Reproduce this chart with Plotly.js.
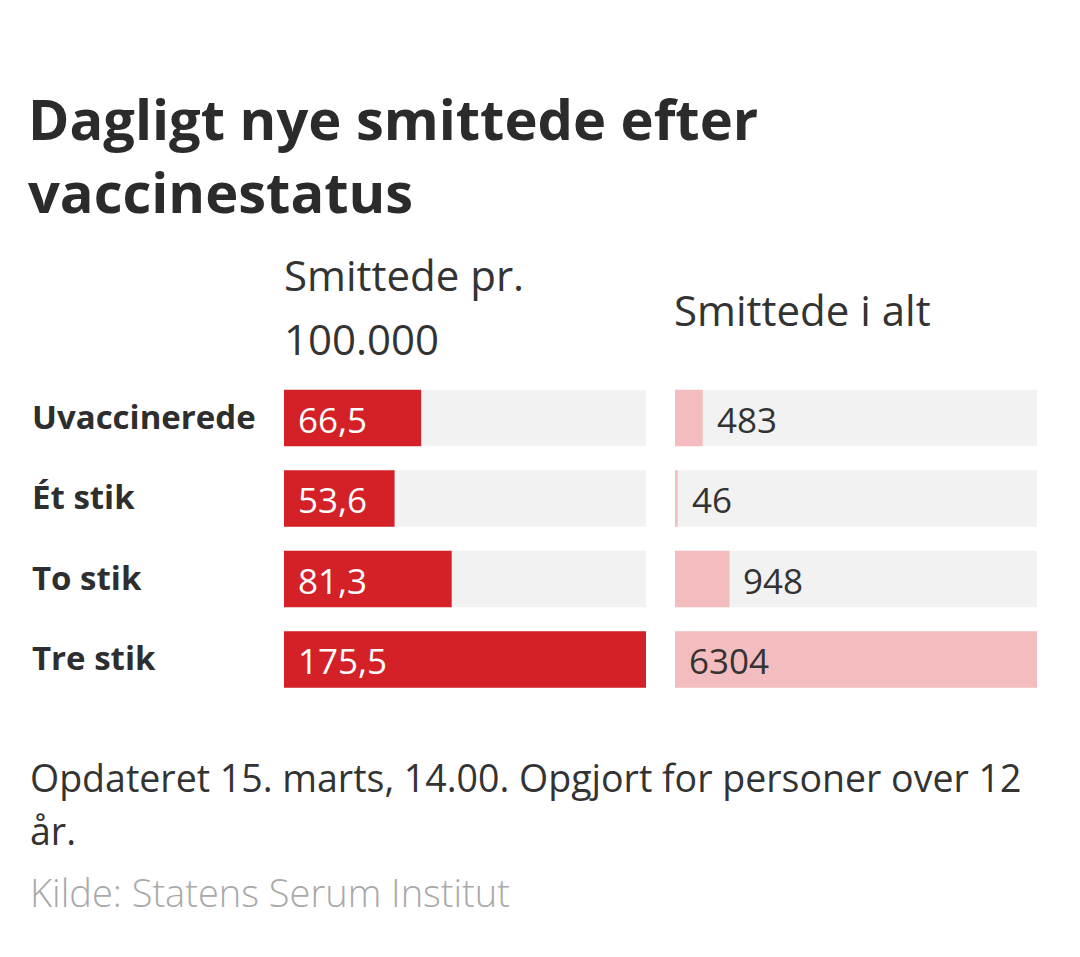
<!DOCTYPE html>
<html>
<head>
<meta charset="utf-8">
<script src="https://cdn.plot.ly/plotly-3.0.1.min.js"></script>
<style>html,body{margin:0;padding:0;background:#fff;}#chart{width:1080px;height:957px;}</style>
</head>
<body>
<div id="chart"></div>
<script>
// ---- data ----
const categories = ['Uvaccinerede', 'Ét stik', 'To stik', 'Tre stik'];
const perHundredThousand = [66.5, 53.6, 81.3, 175.5];
const totalInfected = [483, 46, 948, 6304];
const headerLeftLines = ['Smittede pr.', '100.000'];
const headerRight = 'Smittede i alt';
const titleLines = ['Dagligt nye smittede efter', 'vaccinestatus'];
const noteLines = ['Opdateret 15. marts, 14.00. Opgjort for personer over 12', 'år.'];
const sourceText = 'Kilde: Statens Serum Institut';

// ---- styling ----
const W = 1080, H = 957;
const px = v => v / W;
const py = v => 1 - v / H;
const FONT = 'Open Sans, Noto Sans, sans-serif';
const RED = '#d42027', PINK = '#f3bcbf', TRACK = '#f2f2f2', INK = '#2e2e2e';

const maxLeft = Math.max(...perHundredThousand);
const maxRight = Math.max(...totalInfected);
const fmtDec = v => v.toFixed(1).replace('.', ',');

const traces = [
  { type: 'bar', orientation: 'h', y: categories, x: categories.map(() => maxLeft),
    xaxis: 'x', yaxis: 'y', marker: { color: TRACK }, hoverinfo: 'skip', showlegend: false },
  { type: 'bar', orientation: 'h', y: categories, x: perHundredThousand,
    xaxis: 'x', yaxis: 'y', marker: { color: RED }, showlegend: false },
  { type: 'bar', orientation: 'h', y: categories, x: categories.map(() => maxRight),
    xaxis: 'x2', yaxis: 'y', marker: { color: TRACK }, hoverinfo: 'skip', showlegend: false },
  { type: 'bar', orientation: 'h', y: categories, x: totalInfected,
    xaxis: 'x2', yaxis: 'y', marker: { color: PINK }, showlegend: false }
];

const annotations = [];
// row labels
categories.forEach(c => annotations.push({
  text: c, xref: 'paper', x: px(30), xanchor: 'left', yref: 'y', y: c, yanchor: 'middle',
  yshift: 2, showarrow: false, font: { family: FONT, size: 33, color: INK, weight: 700 }
}));
// left values (inside, white)
perHundredThousand.forEach((v, i) => annotations.push({
  text: fmtDec(v), xref: 'x', x: 0, xanchor: 'left', xshift: 12, yref: 'y', y: categories[i],
  yanchor: 'middle', yshift: -1, showarrow: false, font: { family: FONT, size: 35, color: '#ffffff' }
}));
// right values (after bar, or inside if bar is long)
totalInfected.forEach((v, i) => {
  const inside = v / maxRight > 0.5;
  annotations.push({
    text: String(v), xref: 'x2', x: inside ? 0 : v, xanchor: 'left', xshift: 12, yref: 'y', y: categories[i],
    yanchor: 'middle', yshift: -1, showarrow: false, font: { family: FONT, size: 35, color: '#333333' }
  });
});
// column headers
const hdrFont = { family: FONT, size: 42, color: '#333333' };
annotations.push({ text: headerLeftLines[0], xref: 'paper', x: px(282), xanchor: 'left',
  yref: 'paper', y: py(293 - 19), yanchor: 'middle', showarrow: false, font: hdrFont });
annotations.push({ text: headerLeftLines[1], xref: 'paper', x: px(282), xanchor: 'left',
  yref: 'paper', y: py(355 - 17), yanchor: 'middle', showarrow: false, font: hdrFont });
annotations.push({ text: headerRight, xref: 'paper', x: px(672), xanchor: 'left',
  yref: 'paper', y: py(326 - 17), yanchor: 'middle', showarrow: false, font: hdrFont });
// notes
const noteFont = { family: FONT, size: 37.5, color: '#333333' };
annotations.push({ text: noteLines[0], xref: 'paper', x: px(28), xanchor: 'left',
  yref: 'paper', y: py(790 - 13), yanchor: 'middle', showarrow: false, font: noteFont });
annotations.push({ text: noteLines[1], xref: 'paper', x: px(28), xanchor: 'left',
  yref: 'paper', y: py(843 - 13), yanchor: 'middle', showarrow: false, font: noteFont });
annotations.push({ text: sourceText, xref: 'paper', x: px(28), xanchor: 'left',
  yref: 'paper', y: py(905 - 13), yanchor: 'middle', showarrow: false,
  font: { family: FONT, size: 38, color: '#a9a9a9', weight: 300 } });

const axisOff = { showgrid: false, zeroline: false, showline: false, showticklabels: false, ticks: '', fixedrange: true };

const layout = {
  width: W, height: H,
  margin: { l: 0, r: 0, t: 0, b: 0 },
  paper_bgcolor: '#ffffff', plot_bgcolor: '#ffffff',
  barmode: 'overlay', bargap: 0.3,
  title: { text: titleLines.join('<br>'), x: px(28), xanchor: 'left', xref: 'paper',
    y: py(140), yanchor: 'top', yref: 'container',
    font: { family: FONT, size: 56, color: '#2b2b2b', weight: 700 } },
  xaxis: Object.assign({ domain: [px(284), px(646)], range: [0, maxLeft], anchor: 'y' }, axisOff),
  xaxis2: Object.assign({ domain: [px(675), px(1037)], range: [0, maxRight], anchor: 'y' }, axisOff),
  yaxis: Object.assign({ type: 'category', categoryorder: 'array', categoryarray: categories,
    domain: [1 - 699.75 / H, 1 - 377.75 / H], range: [3.5, -0.5] }, axisOff),
  annotations: annotations,
  showlegend: false
};

Plotly.newPlot('chart', traces, layout, { displayModeBar: false, staticPlot: true });
</script>
</body>
</html>
